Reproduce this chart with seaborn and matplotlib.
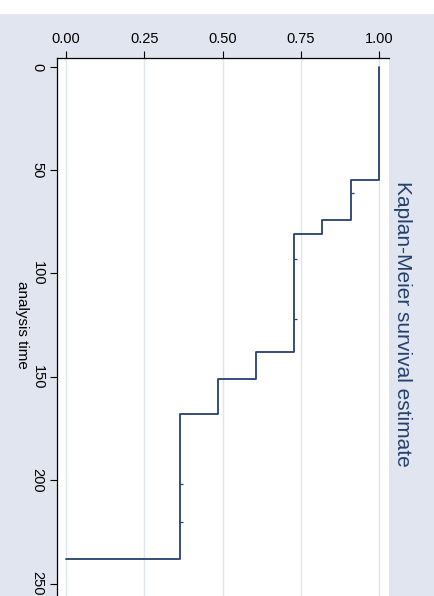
import matplotlib
matplotlib.use("Agg")
import matplotlib.pyplot as plt
import seaborn as sns
import pandas as pd
from matplotlib.patches import Rectangle

# ---- data ----
event_times = [0, 55, 74, 81, 138, 151, 168, 238]
survival = [1.0, 0.909, 0.818, 0.727, 0.606, 0.485, 0.364, 0.0]
censor_times = [61, 93, 122, 202, 220]
censor_surv = [0.909, 0.727, 0.727, 0.364, 0.364]
x_ticks = [0.0, 0.25, 0.5, 0.75, 1.0]
x_ticklabels = ["0.00", "0.25", "0.50", "0.75", "1.00"]
y_ticks = [0, 50, 100, 150, 200, 250]
title = "Kaplan-Meier survival estimate"
ylabel = "analysis time"

BG = "#e1e5ef"
NAVY = "#25406f"
GRID = "#e1e5ef"

sns.set_theme(style="white")
plt.rcParams["font.family"] = ["Liberation Sans", "DejaVu Sans"]

W, H = 435, 596
fig = plt.figure(figsize=(W / 100, H / 100), dpi=100, facecolor="white")
fig.patches.append(Rectangle((0, 0), 1, 1 - 14 / H, transform=fig.transFigure,
                             facecolor=BG, edgecolor="none", zorder=-1))

ax = fig.add_axes([56.7 / W, 0, (389.3 - 56.7) / W, 1 - 57.7 / H])
ax.set_facecolor("white")

df = pd.DataFrame({"S": survival, "t": event_times})
sns.lineplot(data=df, x="S", y="t", sort=False, estimator=None, ax=ax,
             color=NAVY, linewidth=1.3, drawstyle="steps-pre")

cdf = pd.DataFrame({"S": censor_surv, "t": censor_times})
sns.scatterplot(data=cdf, x="S", y="t", ax=ax, marker=1, s=4,
                color=NAVY, linewidth=0.9, zorder=3)

ax.set_xlim(-0.0297, 1.0319)
ax.set_ylim(256, -4.35)

ax.xaxis.tick_top()
ax.set_xticks(x_ticks)
ax.set_xticklabels(x_ticklabels)
ax.set_yticks(y_ticks)
ax.set_yticklabels([str(v) for v in y_ticks], rotation=-90, va="center")
ax.tick_params(axis="x", top=True, bottom=False, length=4.7, width=0.8,
               pad=3.5, labelsize=10.5, colors="black")
ax.tick_params(axis="y", left=True, length=4.7, width=0.8, pad=4.0,
               labelsize=10.5, colors="black")

ax.grid(False)
for v in x_ticks:
    ax.axvline(v, color=GRID, linewidth=1.0, zorder=0)

for side in ["right", "bottom"]:
    ax.spines[side].set_visible(False)
for side in ["left", "top"]:
    ax.spines[side].set_color("black")
    ax.spines[side].set_linewidth(0.9)

ax.set_xlabel("")
ax.set_ylabel("")

fig.text(22 / W, 1 - 325 / H, ylabel, rotation=-90, ha="center", va="center",
         fontsize=11, color="black")
fig.text(403 / W, 1 - 324 / H, title, rotation=-90, ha="center", va="center",
         fontsize=15, color=NAVY)

fig.savefig("out.png", dpi=100, facecolor=fig.get_facecolor())
